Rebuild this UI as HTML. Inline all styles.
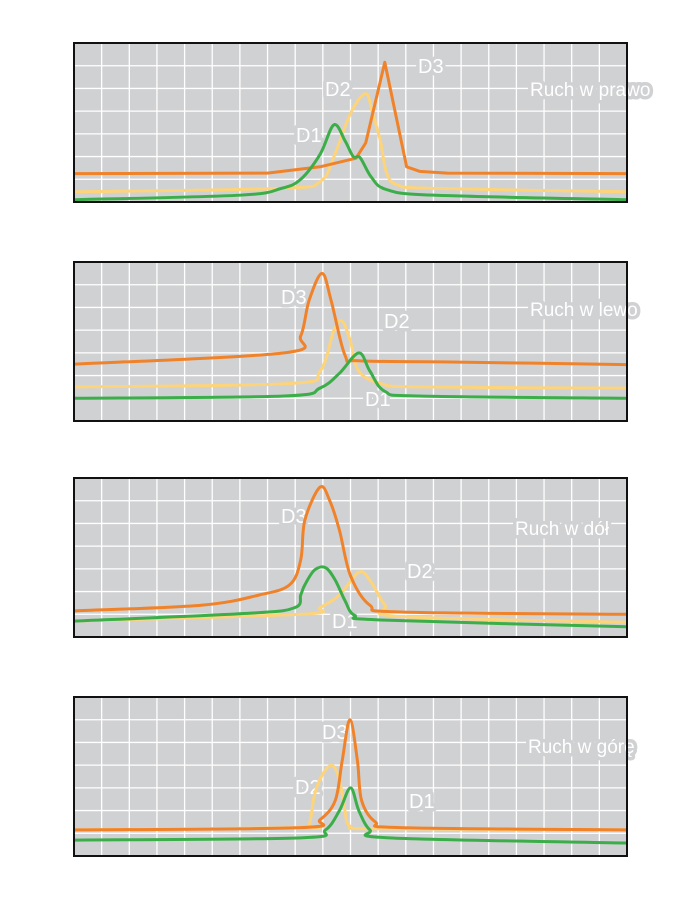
<!DOCTYPE html>
<html><head><meta charset="utf-8">
<style>
body{margin:0;background:#fff;width:700px;height:900px;overflow:hidden}
svg{display:block}
.lbl{font-family:"Liberation Sans Narrow","Liberation Sans",sans-serif;fill:#fff;stroke:#d0d1d3;stroke-width:7px;paint-order:stroke;stroke-linejoin:round}
</style></head>
<body>
<svg id="chart" width="700" height="900" viewBox="0 0 700 900"></svg>
<script>
// Column units (0..20) and row units (0..7) per panel
const panelTitles = ["Ruch w prawo","Ruch w lewo","Ruch w dół","Ruch w górę"];
const panelTops = [43,262,478,697];
// Panel 1
const p1OrangeX=[0,7,8.9,10.2,10.55,11.24,12.03,12.5,13.5,20];
const p1OrangeY=[1.25,1.27,1.55,1.93,2.6,6.15,1.55,1.35,1.27,1.25];
const p1YellowX=[0,7.5,8.9,9.4,10.0,10.55,10.8,11.08,11.3,11.7,13,20];
const p1YellowY=[0.45,0.6,0.9,2.0,3.9,4.77,3.9,2.7,1.3,0.75,0.6,0.45];
const p1GreenX=[0,6,7.5,8.2,8.9,9.4,9.8,10.1,10.35,10.75,11.3,13,20];
const p1GreenY=[0.1,0.3,0.6,1.0,2.1,3.4,2.7,2.0,1.95,1.1,0.55,0.3,0.1];
// Panel 2
const p2OrangeX=[0,7.6,8.2,8.5,8.97,9.3,9.8,10.3,13.6,20];
const p2OrangeY=[2.5,3.0,3.75,5.3,6.5,5.3,2.9,2.65,2.6,2.48];
const p2YellowX=[0,7.8,8.9,9.4,9.7,10.0,10.3,11.1,12.5,20];
const p2YellowY=[1.5,1.65,2.2,4.0,4.4,3.5,2.2,1.65,1.5,1.45];
const p2GreenX=[0,7.6,8.9,9.6,10.3,10.7,11.25,12.5,20];
const p2GreenY=[1.0,1.1,1.45,2.1,3.0,2.2,1.3,1.1,1.0];
// Panel 3
const p3OrangeX=[0,4.6,6.7,7.8,8.2,8.35,8.9,9.25,9.6,10.0,10.7,11.8,20];
const p3OrangeY=[1.15,1.4,1.85,2.3,3.4,5.15,6.6,6.0,4.7,2.7,1.4,1.1,1.0];
const p3YellowX=[0,8.2,8.9,9.6,10.3,10.7,11.25,11.8,20];
const p3YellowY=[0.7,1.0,1.3,1.85,2.85,2.5,1.4,0.9,0.65];
const p3GreenX=[0,6.4,8.0,8.2,8.35,8.7,9.1,9.45,9.8,10.15,11.1,20];
const p3GreenY=[0.7,1.05,1.3,1.85,2.3,2.95,3.05,2.5,1.6,0.95,0.75,0.45];
// Panel 4
const p4OrangeX=[0,8.2,8.9,9.45,9.7,9.98,10.25,10.4,10.9,11.8,20];
const p4OrangeY=[1.15,1.25,1.6,2.45,4.2,6.0,4.2,2.45,1.5,1.25,1.15];
const p4YellowX=[0,8.2,8.5,8.7,8.97,9.33,9.6,9.8,10.0,11,20];
const p4YellowY=[1.15,1.25,1.35,2.7,3.55,4.0,3.35,2.0,1.3,1.2,1.15];
const p4GreenX=[0,8.2,9.1,9.6,10.0,10.3,10.7,11.4,20];
const p4GreenY=[0.7,0.8,1.15,2.0,3.0,2.0,1.15,0.8,0.57];

const series=[
 [[p1YellowX,p1YellowY,"#fdd47a","d2"],[p1OrangeX,p1OrangeY,"#f0822a","d3",true],[p1GreenX,p1GreenY,"#3cae49","d1"]],
 [[p2YellowX,p2YellowY,"#fdd47a","d2"],[p2OrangeX,p2OrangeY,"#f0822a","d3"],[p2GreenX,p2GreenY,"#3cae49","d1"]],
 [[p3YellowX,p3YellowY,"#fdd47a","d2"],[p3OrangeX,p3OrangeY,"#f0822a","d3"],[p3GreenX,p3GreenY,"#3cae49","d1"]],
 [[p4YellowX,p4YellowY,"#fdd47a","d2"],[p4OrangeX,p4OrangeY,"#f0822a","d3"],[p4GreenX,p4GreenY,"#3cae49","d1"]]
];
const labels=[
 [["D3",418,73],["D2",325,96],["D1",296,142],["Ruch w prawo",530,96]],
 [["D3",281,304],["D2",384,328],["D1",365,406],["Ruch w lewo",530,316]],
 [["D3",281,523],["D2",407,578],["D1",332,628],["Ruch w dół",515,535]],
 [["D3",322,739],["D2",295,794],["D1",409,808],["Ruch w górę",528,753]]
];
const NS="http://www.w3.org/2000/svg";
const svg=document.getElementById('chart');
const L=74,W=553,H=159,COLS=20,ROWS=7;
function mk(t,a,p){const e=document.createElementNS(NS,t);for(const k in a)e.setAttribute(k,a[k]);(p||svg).appendChild(e);return e;}
panelTops.forEach((top,i)=>{
  const sx=c=>L+c*W/COLS, sy=r=>top+H-r*H/ROWS;
  const g=mk('g',{});
  
  
  const bg=mk('rect',{x:L,y:top,width:W,height:H,fill:'#d0d1d3'},g);
  
  
  for(let c=1;c<COLS;c++){const l=mk('line',{x1:sx(c),x2:sx(c),y1:top,y2:top+H,stroke:'#fff','stroke-width':1.3},g);
    }
  for(let r=1;r<ROWS;r++){const l=mk('line',{x1:L,x2:L+W,y1:sy(r),y2:sy(r),stroke:'#fff','stroke-width':1.3},g);
    }
  labels[i].forEach(([t,x,y])=>{
    const tx=mk('text',{x:x,y:y,class:'lbl','font-size':t.length>3?19:20},g);
    tx.textContent=t;
    
    
  });
  series[i].forEach(([xs,ys,col,nm,sharp])=>{
    const P=xs.map((c,k)=>[sx(c),sy(ys[k])]);
    let d='M'+P[0][0]+','+P[0][1];
    for(let k=0;k<P.length-1;k++){
      if(sharp){d+=' L'+P[k+1][0]+','+P[k+1][1];continue;}
      const p0=P[Math.max(0,k-1)],p1=P[k],p2=P[k+1],p3=P[Math.min(P.length-1,k+2)];
      const c1=[p1[0]+(p2[0]-p0[0])/6,p1[1]+(p2[1]-p0[1])/6];
      const c2=[p2[0]-(p3[0]-p1[0])/6,p2[1]-(p3[1]-p1[1])/6];
      d+=` C${c1[0]},${c1[1]} ${c2[0]},${c2[1]} ${p2[0]},${p2[1]}`;
    }
    const path=mk('path',{d:d,fill:'none',stroke:col,'stroke-width':3,'stroke-linejoin':'round'},g);
    
    
  });
  const fr=mk('rect',{x:L,y:top,width:W,height:H,fill:'none',stroke:'#111','stroke-width':2},g);
  
  
});
</script>
</body></html>
